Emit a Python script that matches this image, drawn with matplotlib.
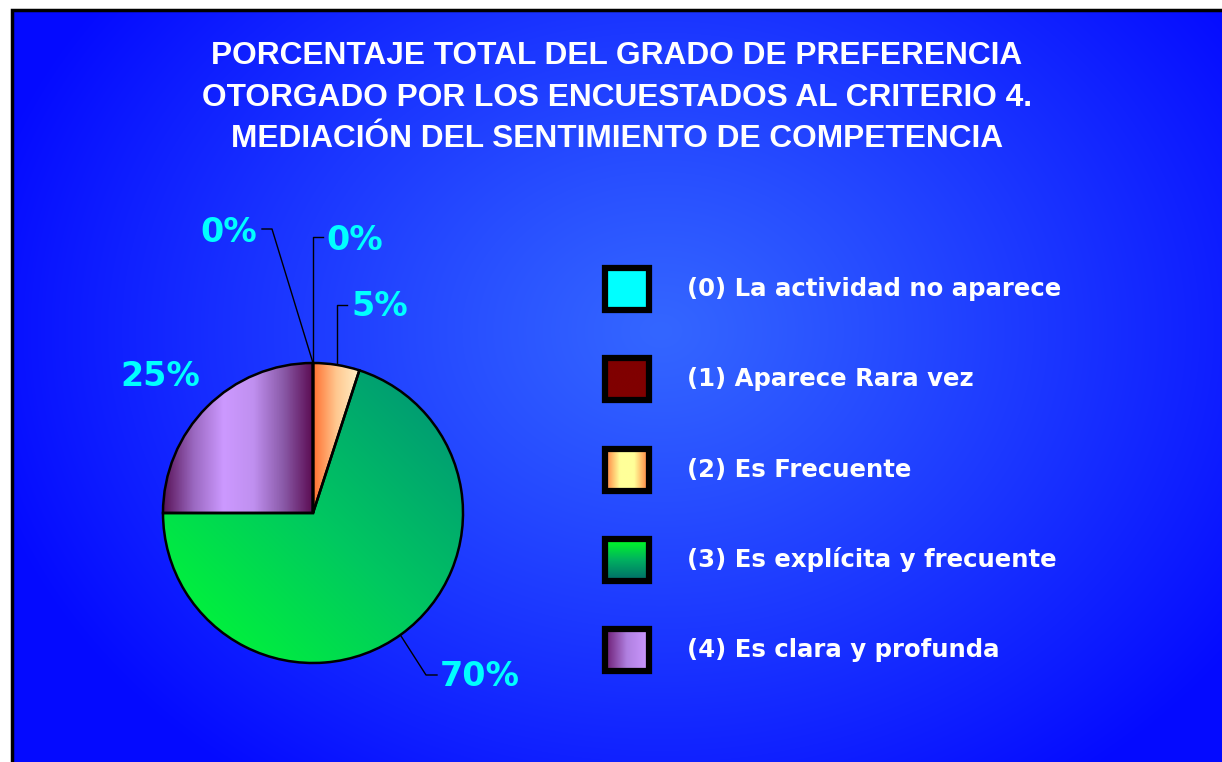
import numpy as np
import matplotlib.pyplot as plt
from matplotlib.colors import LinearSegmentedColormap
from matplotlib.patches import Rectangle

# data
categories = ["(0) La actividad no aparece", "(1) Aparece Rara vez", "(2) Es Frecuente",
              "(3) Es explícita y frecuente", "(4) Es clara y profunda"]
values = [0, 0, 1, 14, 5]
title_lines = ["PORCENTAJE TOTAL DEL GRADO DE PREFERENCIA",
               "OTORGADO POR LOS ENCUESTADOS AL CRITERIO 4.",
               "MEDIACIÓN DEL SENTIMIENTO DE COMPETENCIA"]

W, H = 1222, 762
FONT = ["Liberation Sans", "DejaVu Sans"]
WIDE = ["DejaVu Sans"]

# gradient stops per slice
grads = [
    (["#00ffff", "#00ffff"], "h"),
    (["#800000", "#800000"], "h"),
    (["#ff7030", "#ffc890", "#fff0c8"], "h"),
    (["#00ff30", "#00c860", "#008f78"], "d"),
    (["#5a1458", "#9a68c0", "#cc99ff", "#c090f0", "#8a5aa8", "#5a0a50"], "h"),
]
legend_grads = [
    (["#00ffff", "#00ffff"], "h"),
    (["#800000", "#800000"], "h"),
    (["#ff7a3a", "#ffff99", "#ffff99", "#ff7a3a"], "h"),
    (["#00ff22", "#00b060", "#006a6a"], "v"),
    (["#6a1a70", "#b080e0", "#cc99ff"], "h"),
]


def grad_img(cols, kind, n=200):
    cmap = LinearSegmentedColormap.from_list("g", cols)
    x = np.linspace(0, 1, n)
    X, Y = np.meshgrid(x, x)
    if kind == "h":
        t = X
    elif kind == "v":
        t = Y
    else:
        # bottom-left -> top-right (rows go top to bottom)
        t = np.clip((X + (1 - Y)) / 2, 0, 1)
    return cmap(t)


def main():
    fig = plt.figure(figsize=(W / 100, H / 100), dpi=100)
    fig.patch.set_facecolor("white")
    ax = fig.add_axes([0, 0, 1, 1])

    # background panel with radial gradient
    panel = Rectangle((12, -2), W - 10, H - 8, facecolor="none", edgecolor="black", lw=2.5, zorder=3)
    ax.add_patch(panel)
    yy, xx = np.mgrid[0:H:2, 0:W:2]
    r = np.hypot((xx - 660) / 700, (yy - 330) / 560)
    r = np.clip(r, 0, 1) ** 1.1
    c_in = np.array([0x34, 0x66, 0xff]) / 255
    c_out = np.array([0x04, 0x0a, 0xff]) / 255
    bg = c_in[None, None, :] * (1 - r[..., None]) + c_out[None, None, :] * r[..., None]
    im = ax.imshow(bg, extent=(0, W, 0, H), origin="upper", zorder=1, interpolation="bilinear")
    im.set_clip_path(panel)

    # pie
    cx, cy, rad = 313, H - 513, 150
    wedges, _ = ax.pie(values, center=(cx, cy), radius=rad, startangle=90, counterclock=False,
                       wedgeprops=dict(edgecolor="black", linewidth=1.8, facecolor="none"),
                       frame=True)
    for w, (cols, kind) in zip(wedges, grads):
        w.set_zorder(5)
        bb = w.get_path().get_extents()
        if bb.width < 1e-6:
            continue
        gi = ax.imshow(grad_img(cols, kind), extent=(bb.x0, bb.x1, bb.y0, bb.y1), origin="upper",
                       zorder=4, interpolation="bilinear")
        gi.set_clip_path(w)

    # labels with leader lines
    total = sum(values)
    pct = [f"{round(v / total * 100)}%" for v in values]
    lab_pos = [(229, 232), (355, 240), (380, 307), (480, 677), (160, 376)]
    leaders = [
        [(313, 363), (272, 229), (262, 229)],
        [(313, 363), (313, 237), (323, 237)],
        [(337, 364), (337, 305), (347, 305)],
        [(401, 636), (426, 675), (437, 675)],
        None,
    ]
    for t, (lx, ly), ld in zip(pct, lab_pos, leaders):
        ax.text(lx, H - ly, t, color="#00ffff", fontsize=24, fontweight="bold", family=WIDE,
                ha="center", va="center", zorder=7)
        if ld:
            ax.plot([p[0] for p in ld], [H - p[1] for p in ld], color="black", lw=1.0, zorder=6)

    # title
    for i, line in enumerate(title_lines):
        ax.text(617, H - 56 - i * 41.5, line, color="white", fontsize=22.8, fontweight="bold",
                family=FONT, ha="center", va="center", zorder=7)

    # legend
    for i, (lab, (cols, kind)) in enumerate(zip(categories, legend_grads)):
        yc = H - (289 + i * 90.3)
        bx, by, bw, bh = 605, yc - 21, 44, 42
        ax.add_patch(Rectangle((bx, by), bw, bh, facecolor="none", edgecolor="black", lw=4.5, zorder=6))
        ax.imshow(grad_img(cols, kind), extent=(bx, bx + bw, by, by + bh), origin="upper",
                  zorder=5, interpolation="bilinear")
        ax.text(687, yc, lab, color="white", fontsize=17.6, fontweight="bold", family=WIDE,
                ha="left", va="center", zorder=7)

    ax.set_xlim(0, W)
    ax.set_ylim(0, H)
    ax.set_aspect("equal")
    ax.axis("off")
    fig.savefig("out.png", dpi=100, facecolor="white")


if __name__ == "__main__":
    main()
